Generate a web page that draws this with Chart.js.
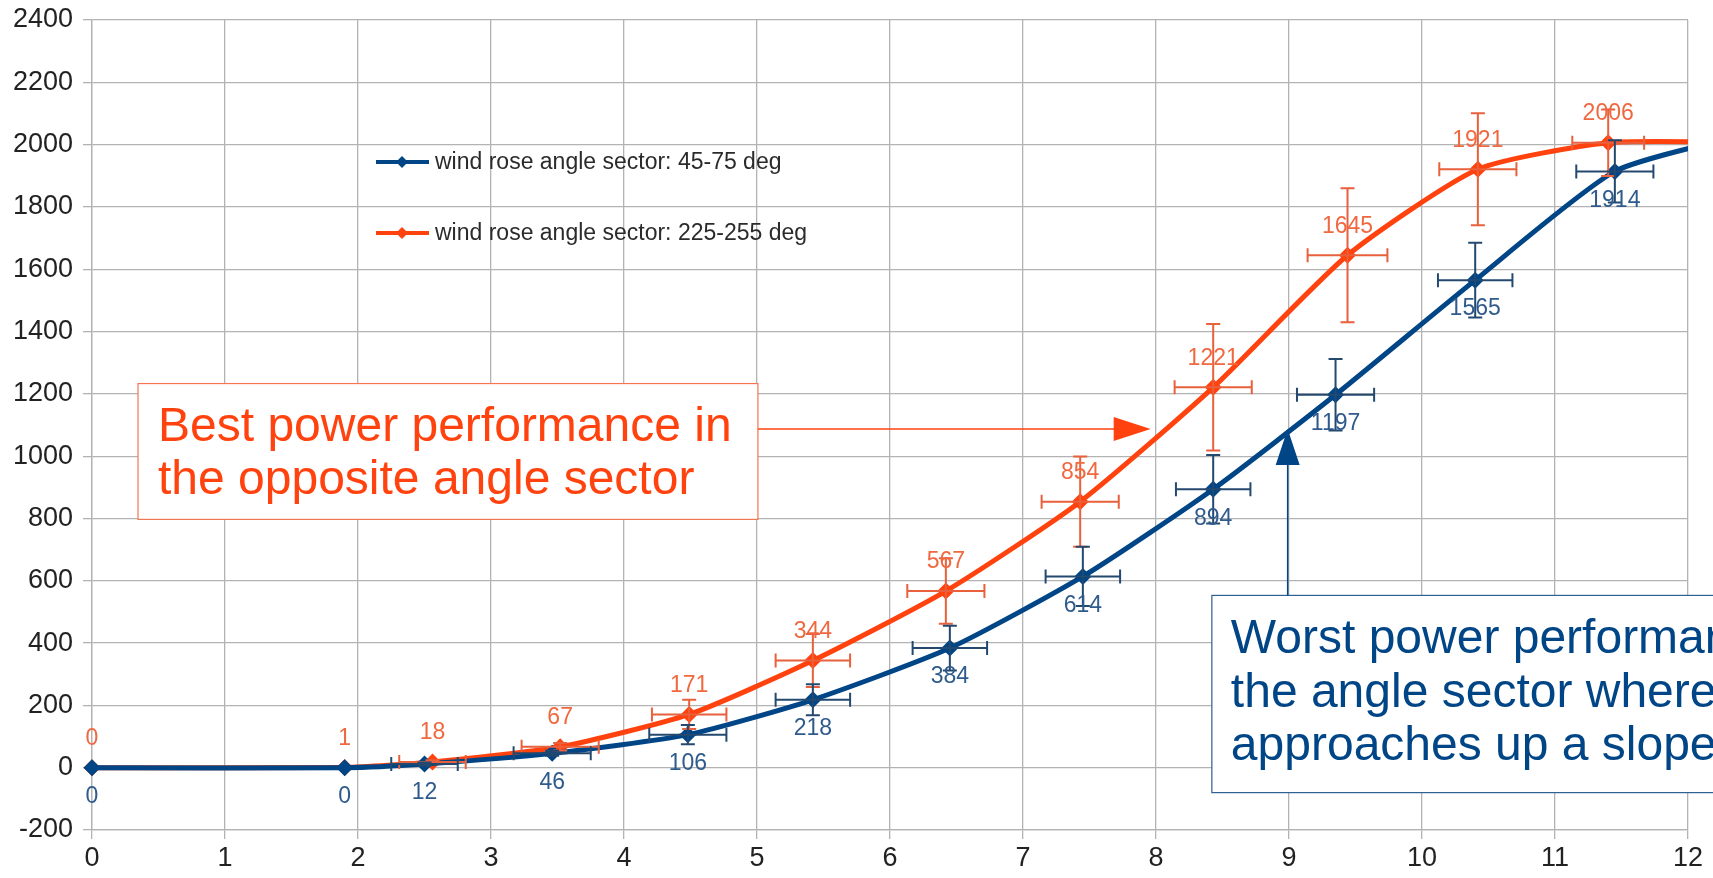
<!DOCTYPE html>
<html>
<head>
<meta charset="utf-8">
<title>Power curve by wind rose sector</title>
<script src="https://cdn.jsdelivr.net/npm/chart.js@4.4.1/dist/chart.umd.min.js"></script>
<style>
  html, body { margin: 0; padding: 0; background: #fff; }
  #wrap { width: 1713px; height: 878px; }
</style>
</head>
<body>
<div id="wrap"><canvas id="chart" width="1713" height="878"></canvas></div>
<script>
// series: wind rose angle sector 45-75 deg
const blueLabel = 'wind rose angle sector: 45-75 deg';
const blueX = [0, 1.9, 2.5, 3.46, 4.48, 5.42, 6.45, 7.45, 8.43, 9.35, 10.4, 11.45, 12.45];
const blueY = [0, 0, 12, 46, 106, 218, 384, 614, 894, 1197, 1565, 1914, 2035];
const blueXErr = [0, 0, 0.25, 0.29, 0.29, 0.28, 0.28, 0.28, 0.28, 0.29, 0.28, 0.29, 0];
const blueYErr = [0, 0, 5, 8, 31, 50, 72, 95, 110, 115, 120, 100, 0];

// series: wind rose angle sector 225-255 deg
const orangeLabel = 'wind rose angle sector: 225-255 deg';
const orangeX = [0, 1.9, 2.56, 3.52, 4.49, 5.42, 6.42, 7.43, 8.43, 9.44, 10.42, 11.4, 12.45];
const orangeY = [0, 1, 18, 67, 171, 344, 567, 854, 1221, 1645, 1921, 2006, 2007];
const orangeXErr = [0, 0, 0.25, 0.29, 0.28, 0.28, 0.29, 0.29, 0.29, 0.3, 0.29, 0.27, 0];
const orangeYErr = [0, 0, 6, 12, 47, 85, 105, 145, 203, 215, 180, 107, 0];

// axes
const xMin = 0, xMax = 12, xStep = 1;
const yMin = -200, yMax = 2400, yStep = 200;

const BLUE = '#004586';
const ORANGE = '#ff420e';
const FONT = "'Liberation Sans', Arial, sans-serif";

const toPoints = (xs, ys) => xs.map((v, i) => ({ x: v, y: ys[i] }));

// error bars + value labels, drawn through the scales
const errorBars = {
  id: 'errorBars',
  afterDatasetsDraw(chart) {
    const { ctx, chartArea: a, scales: { x, y } } = chart;
    ctx.save();
    ctx.beginPath();
    ctx.rect(a.left, a.top, a.right - a.left, a.bottom - a.top);
    ctx.clip();
    const cap = 7;
    chart.data.datasets.slice().reverse().forEach(ds => {
      ctx.strokeStyle = ds.errColor;
      ctx.lineWidth = 2;
      ds.data.forEach((p, i) => {
        const px = x.getPixelForValue(p.x);
        const py = y.getPixelForValue(p.y);
        const ey = ds.yErr[i], ex = ds.xErr[i];
        ctx.beginPath();
        if (ey) {
          const t = y.getPixelForValue(p.y + ey);
          const b = y.getPixelForValue(p.y - ey);
          ctx.moveTo(px, t); ctx.lineTo(px, b);
          ctx.moveTo(px - cap, t); ctx.lineTo(px + cap, t);
          ctx.moveTo(px - cap, b); ctx.lineTo(px + cap, b);
        }
        if (ex) {
          const l = x.getPixelForValue(p.x - ex);
          const r = x.getPixelForValue(p.x + ex);
          ctx.moveTo(l, py); ctx.lineTo(r, py);
          ctx.moveTo(l, py - cap); ctx.lineTo(l, py + cap);
          ctx.moveTo(r, py - cap); ctx.lineTo(r, py + cap);
        }
        ctx.stroke();
      });
    });
    ctx.restore();

    ctx.save();
    ctx.font = '23px ' + FONT;
    ctx.textAlign = 'center';
    ctx.textBaseline = 'middle';
    chart.data.datasets.forEach(ds => {
      ctx.fillStyle = ds.labelColor;
      ds.data.forEach(p => {
        if (p.x > xMax) return;
        const px = x.getPixelForValue(p.x);
        const py = y.getPixelForValue(p.y);
        ctx.fillText(String(p.y), px, py + ds.labelOffset);
      });
    });
    ctx.restore();
  }
};

// legend + callout boxes
const extras = {
  id: 'extras',
  afterDraw(chart) {
    const { ctx, chartArea: a, scales: { x, y } } = chart;
    ctx.save();

    // legend inside the plot
    const lx = a.left + 284;
    chart.data.datasets.forEach((ds, i) => {
      const ly = a.top + 142 + i * 71;
      ctx.strokeStyle = ds.borderColor;
      ctx.lineWidth = 4;
      ctx.beginPath();
      ctx.moveTo(lx, ly); ctx.lineTo(lx + 53, ly);
      ctx.stroke();
      ctx.fillStyle = ds.borderColor;
      ctx.beginPath();
      const cx = lx + 26, r = 6;
      ctx.moveTo(cx, ly - r); ctx.lineTo(cx + r, ly); ctx.lineTo(cx, ly + r); ctx.lineTo(cx - r, ly);
      ctx.closePath();
      ctx.fill();
      ctx.fillStyle = '#2b2b2b';
      ctx.font = '23px ' + FONT;
      ctx.textBaseline = 'middle';
      ctx.fillText(ds.label, lx + 59, ly + 1);
    });

    ctx.font = '48px ' + FONT;
    ctx.textBaseline = 'alphabetic';

    // best performance callout
    const bl = x.getPixelForValue(0.346), br = x.getPixelForValue(5.007);
    const bt = y.getPixelForValue(1233), bb = y.getPixelForValue(797);
    ctx.fillStyle = '#fff';
    ctx.fillRect(bl, bt, br - bl, bb - bt);
    ctx.strokeStyle = '#f47650';
    ctx.lineWidth = 1.2;
    ctx.strokeRect(bl, bt, br - bl, bb - bt);
    ctx.fillStyle = ORANGE;
    ctx.fillText('Best power performance in', bl + 20, bt + 57);
    ctx.fillText('the opposite angle sector', bl + 20, bt + 110);

    const ay = y.getPixelForValue(1087);
    const tipX = x.getPixelForValue(7.96);
    ctx.strokeStyle = ORANGE;
    ctx.lineWidth = 1.5;
    ctx.beginPath();
    ctx.moveTo(br, ay); ctx.lineTo(tipX - 34, ay);
    ctx.stroke();
    ctx.beginPath();
    ctx.moveTo(tipX, ay); ctx.lineTo(tipX - 37, ay - 12); ctx.lineTo(tipX - 37, ay + 12);
    ctx.closePath();
    ctx.fill();

    // worst performance callout
    const wl = x.getPixelForValue(8.42), wr = x.getPixelForValue(12.6);
    const wt = y.getPixelForValue(553), wb = y.getPixelForValue(-80);
    ctx.fillStyle = '#fff';
    ctx.fillRect(wl, wt, wr - wl, wb - wt);
    ctx.strokeStyle = '#2d5f91';
    ctx.lineWidth = 1.2;
    ctx.strokeRect(wl, wt, wr - wl, wb - wt);
    ctx.fillStyle = BLUE;
    ctx.fillText('Worst power performance in', wl + 19, wt + 58);
    ctx.fillText('the angle sector where wind', wl + 19, wt + 112);
    ctx.fillText('approaches up a slope', wl + 19, wt + 165);

    const ux = x.getPixelForValue(8.99);
    const tipY = y.getPixelForValue(1087);
    ctx.strokeStyle = BLUE;
    ctx.lineWidth = 1.5;
    ctx.beginPath();
    ctx.moveTo(ux, wt); ctx.lineTo(ux, tipY + 32);
    ctx.stroke();
    ctx.beginPath();
    ctx.moveTo(ux, tipY); ctx.lineTo(ux - 12, tipY + 36); ctx.lineTo(ux + 12, tipY + 36);
    ctx.closePath();
    ctx.fill();

    ctx.restore();
  }
};

const ctx = document.getElementById('chart').getContext('2d');
new Chart(ctx, {
  type: 'line',
  data: {
    datasets: [
      {
        label: blueLabel,
        data: toPoints(blueX, blueY),
        xErr: blueXErr, yErr: blueYErr,
        borderColor: BLUE, backgroundColor: BLUE,
        clip: { left: 12, top: 12, right: 0, bottom: 12 },
        errColor: '#24496f', labelColor: '#2f5b8c', labelOffset: 29
      },
      {
        label: orangeLabel,
        data: toPoints(orangeX, orangeY),
        xErr: orangeXErr, yErr: orangeYErr,
        borderColor: ORANGE, backgroundColor: ORANGE,
        clip: { left: 12, top: 12, right: 0, bottom: 12 },
        errColor: '#e8603c', labelColor: '#f0683f', labelOffset: -29
      }
    ]
  },
  options: {
    responsive: false,
    animation: false,
    layout: { padding: { top: 20, right: 25, left: 0, bottom: 0 } },
    elements: {
      line: { borderWidth: 5, tension: 0.2 },
      point: { pointStyle: 'rectRot', radius: 8.5, borderWidth: 0 }
    },
    plugins: {
      legend: { display: false },
      tooltip: { enabled: false }
    },
    scales: {
      x: {
        type: 'linear',
        min: xMin, max: xMax,
        afterFit: s => { s.height = 48; s.paddingLeft = 0; s.paddingRight = 0; },
        ticks: { stepSize: xStep, padding: 3, color: '#222', font: { family: FONT, size: 27 } },
        grid: { color: '#b3b3b3', lineWidth: 1.3, tickLength: 9 },
        border: { color: '#b3b3b3', width: 1.3 }
      },
      y: {
        min: yMin, max: yMax,
        afterFit: s => { s.width = 92; s.paddingTop = 0; s.paddingBottom = 0; },
        ticks: {
          stepSize: yStep, padding: 10, color: '#222', font: { family: FONT, size: 27 },
          callback: v => String(v)
        },
        grid: { color: '#b3b3b3', lineWidth: 1.3, tickLength: 9 },
        border: { color: '#b3b3b3', width: 1.3 }
      }
    }
  },
  plugins: [errorBars, extras]
});
</script>
</body>
</html>
